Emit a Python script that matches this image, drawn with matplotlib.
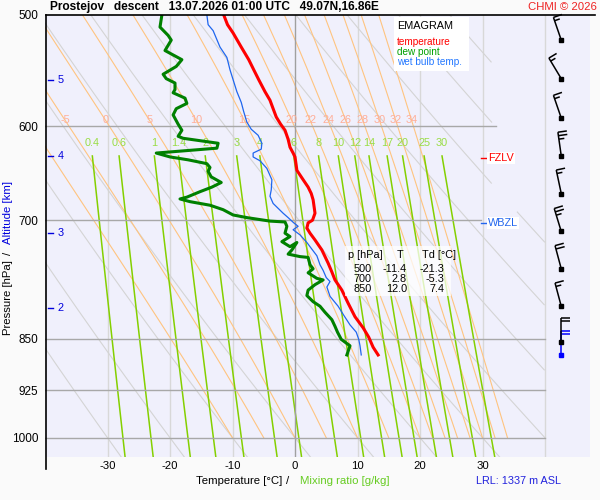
import numpy as np
import matplotlib
matplotlib.use('Agg')
import matplotlib.pyplot as plt
from matplotlib.lines import Line2D
from matplotlib.patches import Rectangle
from matplotlib.ticker import FixedLocator, NullLocator

plt.rcParams['font.family'] = ['Liberation Sans', 'DejaVu Sans']

# sounding: temperature
t_p = [500, 508, 515, 527, 538, 547, 556, 567, 575, 583, 591, 598, 604, 613, 621, 627,
       631, 640, 645, 655, 663, 670, 677, 692, 700, 703, 709, 715, 723, 735, 751, 762,
       772, 785, 802, 820, 835, 848, 862, 873]
t_val = [-11.4, -10.8, -9.9, -8.6, -7.4, -6.6, -5.8, -4.8, -4.0, -3.5, -3.0, -2.3, -1.6, -1.1, -0.8, -0.3,
         0.0, 0.2, 0.3, 1.3, 2.1, 2.6, 2.9, 3.2, 2.8, 2.1, 1.9, 2.4, 3.2, 4.3, 5.3, 5.9,
         6.4, 7.5, 8.5, 9.6, 10.9, 11.8, 12.5, 13.3]

# dew point
td_p = [500, 510, 517, 521, 530, 538, 544, 551, 555, 559, 565, 568, 573, 578, 583, 589,
        598, 604, 610, 612, 617, 622, 627, 631, 634, 638, 642, 646, 652, 658, 663, 668,
        674, 676, 679, 683, 688, 694, 697, 701, 702, 707, 715, 719, 725, 731, 726, 735,
        740, 743, 744, 753, 758, 763, 770, 772, 778, 785, 792, 800, 806, 814, 824, 833,
        841, 851, 860, 873]
td_val = [-21.3, -21.6, -20.3, -19.8, -20.8, -18.1, -19.0, -21.1, -20.6, -19.2, -19.2, -19.5, -17.6, -17.3, -19.0, -19.5,
          -18.7, -18.1, -18.7, -17.9, -12.3, -12.5, -22.2, -20.0, -17.1, -14.1, -13.6, -13.9, -13.4, -11.8, -13.3, -15.2,
          -17.3, -18.4, -16.8, -13.6, -11.5, -9.9, -7.7, -4.0, -1.6, -1.3, -1.6, -0.8, -2.1, -0.8, 0.3, -0.5,
          -1.1, 0.8, 2.1, 2.4, 2.9, 2.1, 3.5, 4.5, 3.2, 2.1, 1.9, 2.9, 4.0, 4.8, 5.9, 6.4,
          6.8, 7.4, 8.8, 8.3]

# wet bulb temperature
tw_p = [500, 508, 513, 527, 536, 547, 556, 567, 577, 586, 596, 603, 609, 617, 623, 627,
        631, 635, 643, 655, 666, 673, 681, 692, 697, 703, 707, 711, 717, 726, 733, 742,
        753, 760, 769, 774, 781, 793, 806, 818, 831, 841, 851, 860, 873]
tw_val = [-14.1, -13.9, -13.1, -12.0, -10.9, -10.4, -9.9, -9.3, -8.6, -8.2, -7.7, -7.0, -5.9, -5.3, -5.4, -6.7,
          -6.7, -5.6, -4.5, -3.7, -3.8, -4.0, -3.5, -1.9, -1.1, -0.2, 0.5, -0.3, 0.8, 1.9, 2.6, 3.5,
          4.0, 4.5, 5.0, 5.6, 5.1, 5.6, 6.9, 7.8, 8.8, 9.8, 10.2, 10.4, 10.6]

# wind
wind_p = [521, 555, 592, 630, 670, 713, 758, 806, 854]
wind_dir = [341, 329, 341, 352, 348, 343, 345, 345, 360]
wind_spd = [15, 15, 15, 25, 15, 25, 20, 15, 20]
sfc_p = 873
sfc_dir = 360
sfc_spd = 20

# table
table_p = [500, 700, 850]
table_t = [-11.4, 2.8, 12.0]
table_td = [-21.3, -5.3, 7.4]

fzlv_p = 632
wbzl_p = 703
alt_km = [2, 3, 4, 5]
alt_p = [808, 715, 630, 556]

# reference lines
isobars = [600, 700, 850, 925, 1000]
isobar_end = [32.2, 29.8, 40, 40, 40]
isotherms = [-30, -20, -10, 10, 20, 30, 40]
dry_theta = list(range(-30, 110, 10))
moist_theta = [-10, -5, 0, 5, 10, 15, 20, 22, 24, 26, 28, 30, 32, 34]
moist_labels = [-5, 0, 5, 10, 15, 20, 22, 24, 26, 28, 30, 32, 34]
mix_ratio = [0.4, 0.6, 1, 1.4, 2, 3, 4, 6, 8, 10, 12, 14, 17, 20, 25, 30]
mix_labels = ['0.4', '0.6', '1', '1.4', '2', '3', '4', '6', '8', '10', '12', '14', '17', '20', '25', '30']

P_TOP, P_BOT = 500, 1032
T_MIN, T_MAX = -40, 47.2

# barb geometry in pixels
STAFF = 24.0
FULL = 9.0
HALF = 5.5
SPACING = 3.5


def sat_vp(tc):
    return 6.112 * np.exp(17.67 * tc / (tc + 243.5))


def moist_lines(t1000, plev):
    """pseudo-adiabats, T in degC along plev"""
    Rd, cp, Lv, eps = 287.04, 1005.7, 2.501e6, 0.622

    def f(T, p):
        es = sat_vp(T - 273.15)
        rs = eps * es / (p - es)
        return (Rd * T + Lv * rs) / (cp + Lv * Lv * rs * eps / (Rd * T * T)) / p

    T = np.array(t1000, dtype=float) + 273.15
    out = [T.copy()]
    for i in range(1, len(plev)):
        p0, dp = plev[i - 1], plev[i] - plev[i - 1]
        k1 = f(T, p0)
        k2 = f(T + 0.5 * dp * k1, p0 + 0.5 * dp)
        k3 = f(T + 0.5 * dp * k2, p0 + 0.5 * dp)
        k4 = f(T + dp * k3, p0 + dp)
        T = T + dp / 6 * (k1 + 2 * k2 + 2 * k3 + k4)
        out.append(T.copy())
    return np.array(out) - 273.15


def draw_barbs(ax, x, plist, dlist, slist, color, z):
    """wind barbs drawn by hand: staff from the station dot towards the wind source"""
    to_disp = ax.transData.transform
    to_data = ax.transData.inverted().transform
    for p, d, s in zip(plist, dlist, slist):
        base = to_disp((x, p))
        r = np.radians(d)
        sv = np.array([np.sin(r), np.cos(r)])
        pv = np.array([np.cos(r), -np.sin(r)])
        tip = base + STAFF * sv
        segs = [(base, tip)]
        n_full, rest = divmod(int(s), 10)
        for k in range(n_full):
            st = tip - k * SPACING * sv
            segs.append((st, st + FULL * pv))
        if rest >= 5:
            st = tip - max(n_full, 1) * SPACING * sv
            segs.append((st, st + HALF * pv))
        for a, b in segs:
            dd = to_data(np.array([a, b]))
            ax.plot(dd[:, 0], dd[:, 1], color=color, lw=1.1, zorder=z,
                    solid_capstyle='butt', clip_on=False)
        ax.plot([x], [p], 's', color=color, ms=3, zorder=z + 0.5, clip_on=False)


fig = plt.figure(figsize=(6, 5), dpi=100, facecolor='#fafafa')
ax = fig.add_axes([45 / 600, 43 / 500, 545 / 600, 442 / 500])
ax.set_facecolor('#f0f0fc')
ax.set_yscale('log')
ax.set_xlim(T_MIN, T_MAX)
ax.set_ylim(P_BOT, P_TOP)
for s in ax.spines.values():
    s.set_visible(False)

# isotherms / isobars
for t in isotherms:
    ax.plot([t, t], [P_TOP, P_BOT], color='#d8d8d8', lw=1, zorder=1)
ax.plot([0, 0], [P_TOP, P_BOT], color='#a0a0a0', lw=1, zorder=1.5)
for p, te in zip(isobars, isobar_end):
    ax.plot([T_MIN, te], [p, p], color='#a8a8a8', lw=1, zorder=1.5)

# dry adiabats
pp = np.linspace(P_TOP, P_BOT, 400)
for th in dry_theta:
    tt = (th + 273.15) * (pp / 1000.0) ** 0.2857 - 273.15
    tt = np.where((tt > 40) | ((tt > 31.5) & (pp < 690)), np.nan, tt)
    ax.plot(tt, pp, color='#d4d4d4', lw=0.8, zorder=1)

# moist adiabats
plev = np.linspace(1000, P_TOP, 251)
ml = moist_lines(moist_theta, plev)
for j, th in enumerate(moist_theta):
    ax.plot(ml[:, j], plev, color='#ffc480', lw=0.8, zorder=1.2)
    if th in moist_labels:
        tl = np.interp(594, plev[::-1], ml[::-1, j])
        ax.text(tl, 594, str(th), color='#ffae98', fontsize=7.8,
                ha='center', va='center', zorder=2)

# mixing ratio lines
pm = np.linspace(630, P_BOT, 100)
for w, lab in zip(mix_ratio, mix_labels):
    e = w / 1000.0 * pm / (0.622 + w / 1000.0)
    lg = np.log(e / 6.112)
    tm = 243.5 * lg / (17.67 - lg)
    ax.plot(tm, pm, color='#84d000', lw=1.1, zorder=1.3)
    ax.text(tm[0], 617, lab, color='#99dd44', fontsize=7.8,
            ha='center', va='center', zorder=2)

# profiles
ax.plot(tw_val, tw_p, color='#1f66ee', lw=0.9, zorder=3)
ax.plot(td_val, td_p, color='#008000', lw=2.2, zorder=3.2)
ax.plot(t_val, t_p, color='#ff0000', lw=2.2, zorder=3.4)

# altitude marks
for km, p in zip(alt_km, alt_p):
    ax.plot([-39.5, -38.8], [p, p], color='#0000dd', lw=1, zorder=4)
    ax.text(-38.0, p, str(km), color='#0000dd', fontsize=7.8, ha='left', va='center', zorder=4)

# freezing / wet bulb zero level
for p, lab, col in [(fzlv_p, 'FZLV', '#ff0000'), (wbzl_p, 'WBZL', '#2266ee')]:
    ax.plot([29.8, 30.8], [p, p], color=col, lw=1, zorder=4)
    ax.text(30.85, p, lab, color=col, fontsize=7.8, ha='left', va='center', zorder=4,
            bbox=dict(boxstyle='square,pad=0.1', fc='white', ec='none'))

# wind barbs
wx = 42.6
draw_barbs(ax, wx, [sfc_p], [sfc_dir], [sfc_spd], '#0000ff', 5)
draw_barbs(ax, wx, wind_p, wind_dir, wind_spd, 'black', 5.5)

# ticks
ax.set_xticks([-30, -20, -10, 0, 10, 20, 30])
ax.set_xticklabels(['-30', '-20', '-10', '0', '10', '20', '30'], fontsize=8.2)
ax.yaxis.set_major_locator(FixedLocator([500, 600, 700, 850, 925, 1000]))
ax.yaxis.set_minor_locator(NullLocator())
ax.set_yticklabels(['500', '600', '700', '850', '925', '1000'], fontsize=8.5)
ax.tick_params(axis='both', length=0)
ax.tick_params(axis='x', pad=3)
ax.tick_params(axis='y', pad=5)


def fx(x):
    return x / 600.0


def fy(y):
    return 1 - y / 500.0


# frame lines
fig.add_artist(Line2D([fx(46), fx(46)], [fy(15), fy(469)], color='black', lw=1.2))
fig.add_artist(Line2D([fx(46), fx(595)], [fy(15), fy(15)], color='black', lw=1.2))

# legend box
fig.add_artist(Rectangle((fx(394), fy(71)), fx(75), 54 / 500, fc='white', ec='none', zorder=6))
fig.text(fx(397), fy(26), 'EMAGRAM', fontsize=7.8, color='black', va='center', zorder=7)
fig.text(fx(397), fy(42), 'temperature', fontsize=7.2, color='#ff0000', va='center', zorder=7)
fig.text(fx(397), fy(52), 'dew point', fontsize=7.2, color='#00a000', va='center', zorder=7)
fig.text(fx(397), fy(62), 'wet bulb temp.', fontsize=7.2, color='#2277ff', va='center', zorder=7)

# value table
fig.add_artist(Rectangle((fx(345), fy(296)), fx(106), 50 / 500, fc='white', ec='none',
                         alpha=0.75, zorder=6))
fig.text(fx(348), fy(255), 'p [hPa]', fontsize=7.8, va='center', zorder=7)
fig.text(fx(400), fy(255), 'T', fontsize=7.8, va='center', ha='center', zorder=7)
fig.text(fx(422), fy(255), 'Td [°C]', fontsize=7.8, va='center', zorder=7)
for i, (p, t, td) in enumerate(zip(table_p, table_t, table_td)):
    yy = fy(269 + 10 * i)
    fig.text(fx(372), yy, str(p), fontsize=7.8, ha='right', va='center', zorder=7)
    fig.text(fx(407), yy, f'{t:.1f}', fontsize=7.8, ha='right', va='center', zorder=7)
    fig.text(fx(444), yy, f'{td:.1f}', fontsize=7.8, ha='right', va='center', zorder=7)

# titles and labels
fig.text(fx(50), fy(7), 'Prostejov   descent   13.07.2026 01:00 UTC   49.07N,16.86E',
         fontsize=8.6, fontweight='bold', va='center')
fig.text(fx(597), fy(7), 'CHMI © 2026', fontsize=8.2, color='#ee2222', ha='right', va='center')
fig.text(fx(239), fy(481), 'Temperature [°C]', fontsize=8.2, ha='center', va='center')
fig.text(fx(288), fy(481), '/', fontsize=8.2, ha='center', va='center')
fig.text(fx(345), fy(481), 'Mixing ratio [g/kg]', fontsize=8.2, color='#66cc22', ha='center', va='center')
fig.text(fx(8), fy(298), 'Pressure [hPa]', fontsize=8.2, rotation=90, ha='center', va='center')
fig.text(fx(8), fy(253), '/', fontsize=8.2, rotation=90, ha='center', va='center')
fig.text(fx(8), fy(213), 'Altitude [km]', fontsize=8.2, rotation=90, color='#0000dd', ha='center', va='center')
fig.text(fx(476), fy(481), 'LRL: 1337 m ASL', fontsize=7.8, color='#2222dd', ha='left', va='center')

fig.savefig('out.png', dpi=100, facecolor=fig.get_facecolor())
